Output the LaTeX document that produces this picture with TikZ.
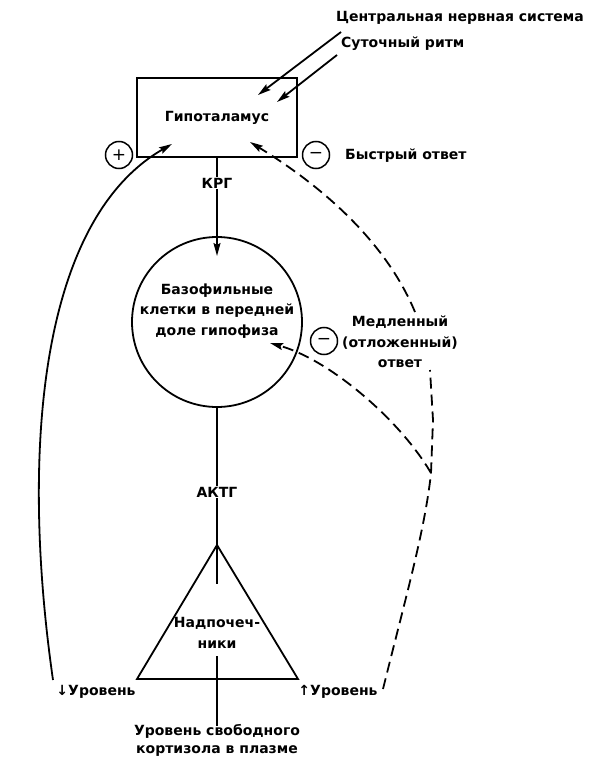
\documentclass[tikz,border=0pt]{standalone}
\usepackage{fontspec}
\setmainfont{DejaVu Sans}
\usetikzlibrary{arrows.meta}
\begin{document}
\begin{tikzpicture}[x=1pt,y=-1pt,
  lbl/.style={font=\bfseries\fontsize{14}{20.5}\selectfont, inner sep=1pt, align=center},
  conn/.style={line width=1.8pt},
  dashconn/.style={line width=1.8pt, dash pattern=on 11pt off 6pt},
  tip/.style={-{Stealth[length=13pt,width=7pt,inset=2pt]}},
  sign/.style={circle, draw, line width=1.5pt, minimum size=27pt, inner sep=0pt,
               font=\fontsize{17}{17}\selectfont}
]
\useasboundingbox (0,0) rectangle (588,759);

% --- nodes ---------------------------------------------------------------
\node[lbl, anchor=east] (cns) at (585,18) {Центральная нервная система};
\node[lbl, anchor=west] (rhythm) at (340,44) {Суточный ритм};

\node[draw, line width=2pt, minimum width=160pt, minimum height=79pt,
      lbl] (hyp) at (217,117.5) {Гипоталамус};

\node[sign] (plus) at (119,155) {+};
\node[sign] (minusfast) at (316,155) {−};
\node[lbl, anchor=west] (fast) at (344,156) {Быстрый ответ};

\node[lbl] (krg) at (217,183) {КРГ};

\node[circle, draw, line width=1.8pt, minimum size=170pt] (pit) at (217,322) {};
\node[lbl] (pittxt) at (217,311) {Базофильные\\клетки в передней\\доле гипофиза};

\node[sign] (minusslow) at (324,341) {−};
\node[lbl] (slow) at (400,342) {Медленный\\(отложенный)\\ответ};

\node[lbl] (actg) at (217,492) {АКТГ};

\coordinate (apex) at (217,545);
\coordinate (bl) at (137,679);
\coordinate (br) at (298,679);
\node[lbl] (adr) at (217,633) {Надпочеч-\\ники};

\node[lbl] (lvlL) at (96,692) {↓Уровень};
\node[lbl] (lvlR) at (338,692) {↑Уровень};
\node[lbl, inner sep=0pt, font=\bfseries\fontsize{14}{18}\selectfont] (cort) at (217,740)
  {Уровень свободного\\кортизола в плазме};

% --- free connector ends ---------------------------------------------------
\coordinate (cnsfrom) at (341,32);
\coordinate (cnsto) at (258,95);
\coordinate (rhyfrom) at (337,55);
\coordinate (rhyto) at (277,102);
\coordinate (posin) at (172,144);
\coordinate (negin) at (250,142);
\coordinate (pitin) at (217,256);
\coordinate (pitfb) at (270,343);
\coordinate (adrin) at (217,584);
\coordinate (adrout) at (217,656);
\coordinate (lowL) at (53,680);
\coordinate (lowR) at (383,689);
\coordinate (junc) at (431,473);
\coordinate (slowtop) at (415,312);
\coordinate (slowbot) at (430,370);

% --- adrenal triangle -------------------------------------------------------
\draw[conn, line join=miter] (apex) -- (bl) -- (br) -- cycle;

% --- main axis --------------------------------------------------------------
\draw[conn, tip] (cnsfrom) -- (cnsto);
\draw[conn, tip] (rhyfrom) -- (rhyto);
\draw[conn] (hyp.south) -- (krg.north);
\draw[conn, tip] (krg.south) -- (pitin);
\draw[conn] (pit.south) -- (actg.north);
\draw[conn] (actg.south) -- (adrin);
\draw[conn] (adrout) -- ([yshift=-2pt]cort.north);

% --- feedback loops ---------------------------------------------------------
\draw[conn, tip] (lowL) .. controls (20,450) and (40,220) .. (posin);
\draw[dashconn] (lowR) .. controls (405,600) and (425,530) .. (junc)
  -- (433,420) -- (slowbot);
\draw[dashconn, tip] (slowtop) .. controls (385,240) and (320,185) .. (negin);
\draw[dashconn, tip] (junc) .. controls (400,420) and (330,360) .. (pitfb);
\end{tikzpicture}
\end{document}
